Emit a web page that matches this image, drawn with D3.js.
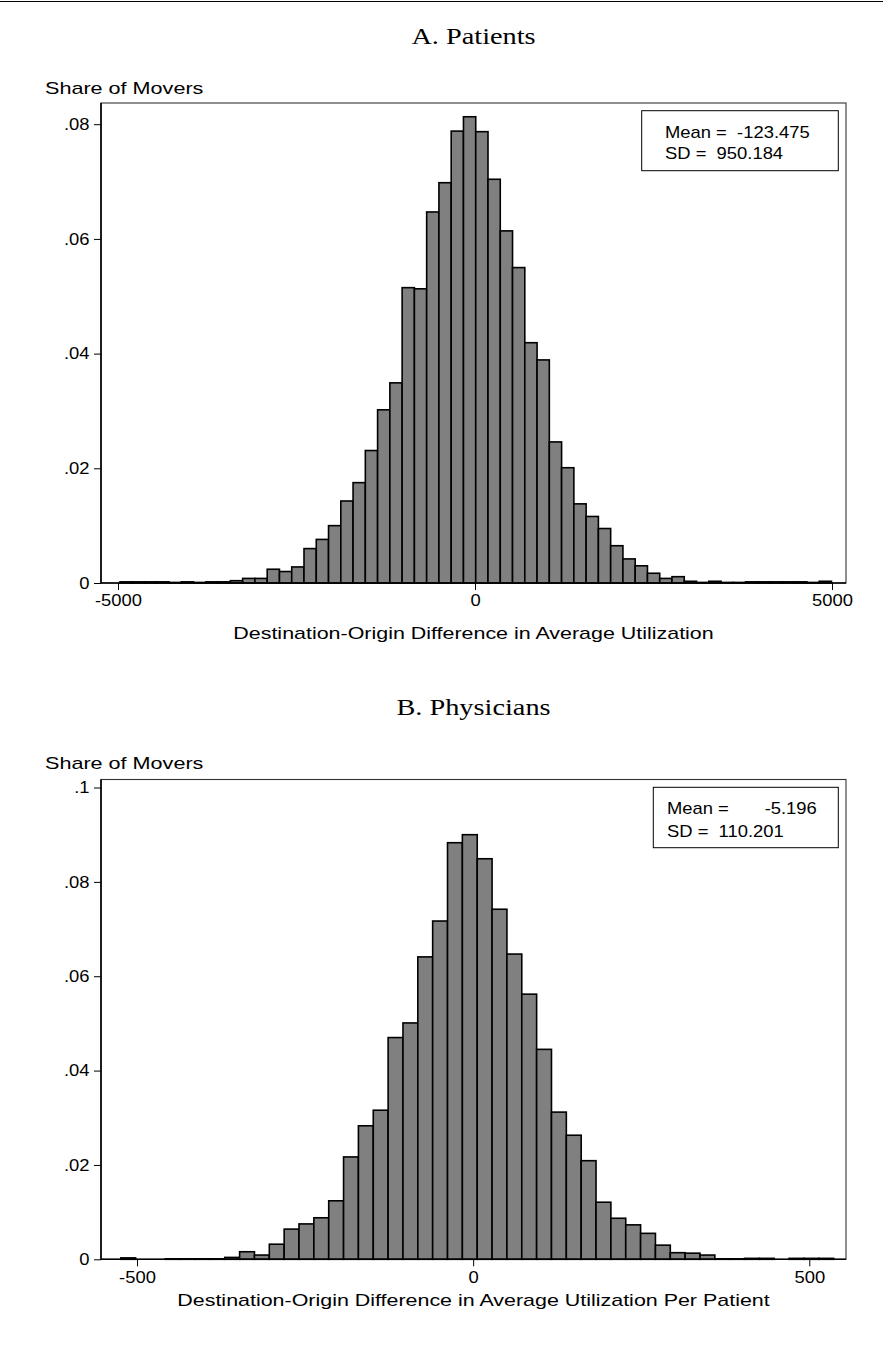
<!DOCTYPE html>
<html>
<head>
<meta charset="utf-8">
<script src="https://cdn.jsdelivr.net/npm/d3@7"></script>
<style>
  html, body { margin: 0; padding: 0; background: #fff; }
  svg { display: block; }
</style>
</head>
<body>
<div id="chart"></div>
<script>
// ---------------- DATA ----------------
// Panel A: Patients (histogram, 58 bins)
const patientsBinStart = -4972;
const patientsBinWidth = 171.8;
const patientsShares = [
  0.0002, 0.0002, 0.0002, 0.0002, 0.0001, 0.0002, 0.0001, 0.0002, 0.0002, 0.0004,
  0.0008, 0.0008, 0.0024, 0.0020, 0.0028, 0.0060, 0.0076, 0.0100, 0.0143, 0.0175,
  0.0231, 0.0302, 0.0349, 0.0515, 0.0513, 0.0647, 0.0698, 0.0788, 0.0813, 0.0787,
  0.0704, 0.0614, 0.0550, 0.0419, 0.0389, 0.0246, 0.0201, 0.0138, 0.0116, 0.0095,
  0.0065, 0.0042, 0.0030, 0.0017, 0.0008, 0.0011, 0.0003, 0.0001, 0.0003, 0.0001,
  0.0001, 0.0002, 0.0002, 0.0002, 0.0002, 0.0002, 0.0001, 0.0003
];
const patientsXTicks = [-5000, 0, 5000];
const patientsYTicks = [0, 0.02, 0.04, 0.06, 0.08];
const patientsStats = ["Mean =  -123.475", "SD =  950.184"];

// Panel B: Physicians (histogram, 48 bins)
const physiciansBinStart = -524.1;
const physiciansBinWidth = 22.09;
const physiciansShares = [
  0.0003, 0.0000, 0.0000, 0.0001, 0.0001, 0.0001, 0.0001, 0.0004, 0.0016, 0.0009,
  0.0032, 0.0064, 0.0075, 0.0088, 0.0124, 0.0217, 0.0283, 0.0316, 0.0470, 0.0501,
  0.0641, 0.0717, 0.0883, 0.0900, 0.0849, 0.0742, 0.0647, 0.0562, 0.0445, 0.0312,
  0.0263, 0.0209, 0.0121, 0.0087, 0.0073, 0.0055, 0.0030, 0.0014, 0.0013, 0.0009,
  0.0001, 0.0001, 0.0002, 0.0002, 0.0000, 0.0002, 0.0002, 0.0002
];
const physiciansXTicks = [-500, 0, 500];
const physiciansYTicks = [0, 0.02, 0.04, 0.06, 0.08, 0.1];
const physiciansStats = ["Mean =       -5.196", "SD =  110.201"];

const panelTitles = ["A. Patients", "B. Physicians"];
const yAxisLabel = "Share of Movers";
const xAxisLabels = [
  "Destination-Origin Difference in Average Utilization",
  "Destination-Origin Difference in Average Utilization Per Patient"
];

// ---------------- LAYOUT ----------------
const W = 883, H = 1358;
const SANS = "'Liberation Sans', Arial, Helvetica, sans-serif";
const SERIF = "'Liberation Serif', 'Times New Roman', serif";
const SX_TEXT = 1.15;   // horizontal stretch of sans text
const SX_LABEL = 1.34;  // axis titles
const SX_TITLE = 1.18;

const svg = d3.select("#chart").append("svg")
  .attr("width", W).attr("height", H)
  .attr("viewBox", `0 0 ${W} ${H}`);

svg.append("rect").attr("width", W).attr("height", H).attr("fill", "#fff");
svg.append("line").attr("x1", 0).attr("x2", W).attr("y1", 1.5).attr("y2", 1.5)
  .attr("stroke", "#000").attr("stroke-width", 1);

function addText(g, x, y, str, opts) {
  const o = Object.assign({ size: 16, sx: SX_TEXT, anchor: "start", family: SANS }, opts || {});
  const t = g.append("g").attr("transform", `translate(${x},${y}) scale(${o.sx},1)`)
    .append("text")
    .attr("x", 0).attr("y", 0)
    .attr("text-anchor", o.anchor)
    .attr("font-family", o.family)
    .attr("font-size", o.size)
    .attr("fill", "#000")
    .attr("xml:space", "preserve")
    .style("white-space", "pre")
    .text(str);
  return t;
}

const fmtY = d => d === 0 ? "0" : d3.format(".2~f")(d).replace(/^0/, "");
const fmtX = d => String(d);   // plain hyphen-minus, as in the original

function drawPanel(cfg) {
  const g = svg.append("g");
  const { left, right, top, bottom } = cfg.frame;

  const x = d3.scaleLinear().domain(cfg.xDomain).range(cfg.xRange);
  const y = d3.scaleLinear().domain([0, cfg.yMax]).range([bottom, top]);

  // panel title
  addText(g, (left + right) / 2, cfg.titleY, cfg.title,
    { size: 24, sx: SX_TITLE, anchor: "middle", family: SERIF });

  // y-axis label
  addText(g, 45, cfg.yLabelY, yAxisLabel, { size: 16, sx: 1.35 });

  // frame (top/right thin)
  g.append("rect")
    .attr("x", left).attr("y", top)
    .attr("width", right - left).attr("height", bottom - top)
    .attr("fill", "#fff").attr("stroke", "#333").attr("stroke-width", 1.1);

  // bars
  const bins = cfg.shares.map((v, i) => ({
    x0: cfg.binStart + i * cfg.binWidth,
    x1: cfg.binStart + (i + 1) * cfg.binWidth,
    v
  })).filter(d => d.v > 0);

  g.append("g").selectAll("rect").data(bins).join("rect")
    .attr("x", d => x(d.x0))
    .attr("y", d => y(d.v))
    .attr("width", d => x(d.x1) - x(d.x0))
    .attr("height", d => y(0) - y(d.v))
    .attr("fill", "#808080")
    .attr("stroke", "#000")
    .attr("stroke-width", 1.6);

  // axes
  const ax = g.append("g").attr("transform", `translate(0,${bottom})`)
    .call(d3.axisBottom(x).tickValues(cfg.xTicks).tickFormat(fmtX)
      .tickSize(7).tickPadding(5));
  const ay = g.append("g").attr("transform", `translate(${left},0)`)
    .call(d3.axisLeft(y).tickValues(cfg.yTicks).tickFormat(fmtY)
      .tickSize(7).tickPadding(3));
  [ax, ay].forEach(a => {
    a.select(".domain").remove();
    a.selectAll(".tick line").attr("stroke", "#000").attr("stroke-width", 1);
    a.selectAll(".tick text")
      .attr("font-family", SANS).attr("font-size", 16).attr("fill", "#000")
      .attr("transform", `scale(${SX_TEXT},1)`);
  });

  // axis lines (left & bottom thicker)
  g.append("line").attr("x1", left).attr("x2", left).attr("y1", top).attr("y2", bottom + 0.5)
    .attr("stroke", "#000").attr("stroke-width", 1.6);
  g.append("line").attr("x1", left).attr("x2", right).attr("y1", bottom).attr("y2", bottom)
    .attr("stroke", "#000").attr("stroke-width", 1.6);

  // x-axis title
  addText(g, (left + right) / 2, cfg.xTitleY, cfg.xLabel, { size: 16, sx: SX_LABEL, anchor: "middle" });

  // stats box
  const b = cfg.box;
  g.append("rect").attr("x", b.x).attr("y", b.y).attr("width", b.w).attr("height", b.h)
    .attr("fill", "#fff").attr("stroke", "#000").attr("stroke-width", 1);
  cfg.stats.forEach((s, i) => {
    addText(g, b.tx, b.ty + i * b.dy, s, { size: 16, sx: SX_TEXT });
  });
}

drawPanel({
  frame: { left: 101, right: 846, top: 103, bottom: 583 },
  xDomain: [-5000, 5000], xRange: [118, 832],
  yMax: 0.0837,
  shares: patientsShares, binStart: patientsBinStart, binWidth: patientsBinWidth,
  xTicks: patientsXTicks, yTicks: patientsYTicks,
  title: panelTitles[0], titleY: 44, yLabelY: 94,
  xLabel: xAxisLabels[0], xTitleY: 639,
  stats: patientsStats,
  box: { x: 641.7, y: 110.7, w: 196.6, h: 60, tx: 665, ty: 137.5, dy: 21.6 }
});

drawPanel({
  frame: { left: 101, right: 846, top: 779.5, bottom: 1259.3 },
  xDomain: [-500, 500], xRange: [137, 809.3],
  yMax: 0.1017,
  shares: physiciansShares, binStart: physiciansBinStart, binWidth: physiciansBinWidth,
  xTicks: physiciansXTicks, yTicks: physiciansYTicks,
  title: panelTitles[1], titleY: 715, yLabelY: 769,
  xLabel: xAxisLabels[1], xTitleY: 1306,
  stats: physiciansStats,
  box: { x: 653.3, y: 787.3, w: 185, h: 60.4, tx: 667, ty: 814, dy: 22.5 }
});
</script>
</body>
</html>
